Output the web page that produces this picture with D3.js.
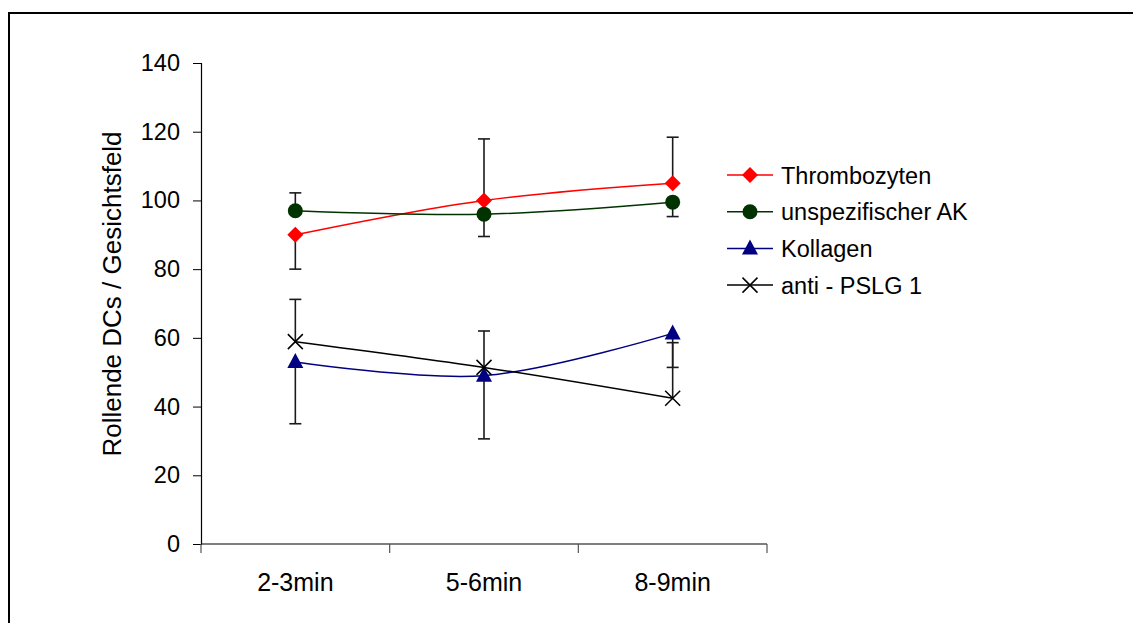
<!DOCTYPE html>
<html>
<head>
<meta charset="utf-8">
<script src="https://cdn.jsdelivr.net/npm/d3@7"></script>
<style>
  body { margin: 0; background: #fff; }
  text { font-family: "Liberation Sans", Arial, sans-serif; fill: #000; }
</style>
</head>
<body>
<div id="chart"></div>
<script>
// categories and values
const categories = ["2-3min", "5-6min", "8-9min"];
const yTicks = [0, 20, 40, 60, 80, 100, 120, 140];

const thrombozyten = [90, 100, 105];
const unspezifisch = [97, 96, 99.5];
const kollagen = [53, 49, 61.3];
const antiPslg = [58.9, 51.4, 42.4];

// error bars (only the drawn direction)
const thrombozytenUp = [0, 17.9, 13.4], thrombozytenDown = [10, 0, 0];
const unspezifischUp = [5.2, 0, 0], unspezifischDown = [0, 6.5, 4.2];
const kollagenUp = [0, 0, 0], kollagenDown = [18, 18.4, 9.9];
const antiPslgUp = [12.3, 10.6, 16.2], antiPslgDown = [0, 0, 0];

const series = [
	{ name: "Thrombozyten", values: thrombozyten, up: thrombozytenUp, down: thrombozytenDown, color: "#ff0000", symbol: "diamond" },
	{ name: "unspezifischer AK", values: unspezifisch, up: unspezifischUp, down: unspezifischDown, color: "#003300", symbol: "circle" },
	{ name: "Kollagen", values: kollagen, up: kollagenUp, down: kollagenDown, color: "#000080", symbol: "triangle" },
	{ name: "anti - PSLG 1", values: antiPslg, up: antiPslgUp, down: antiPslgDown, color: "#000000", symbol: "cross" }
];

const W = 1133, H = 623;

const svg = d3.select("#chart")
	.append("svg")
	.attr("width", W)
	.attr("height", H);

// outer frame (runs past the right and bottom edge)
svg.append("rect")
	.attr("x", 9).attr("y", 13)
	.attr("width", W + 20).attr("height", H + 20)
	.attr("fill", "none")
	.attr("stroke", "#000")
	.attr("stroke-width", 2);

// scales
const x = d3.scaleBand()
	.domain(categories)
	.range([201, 767]);

const y = d3.scaleLinear()
	.domain([0, 140])
	.range([544, 63]);

const cx = d => x(d) + x.bandwidth() / 2;

// Y axis
const yAxis = svg.append("g")
	.attr("transform", "translate(201,0)")
	.call(d3.axisLeft(y).tickValues(yTicks).tickSize(8).tickPadding(13));
yAxis.select(".domain").attr("stroke", "#000").attr("stroke-width", 1.2);
yAxis.selectAll(".tick line").attr("stroke", "#000");
yAxis.selectAll(".tick text")
	.style("font-family", "'Liberation Sans', Arial, sans-serif")
	.style("font-size", "23.5px");

// X axis
const xAxis = svg.append("g")
	.attr("transform", "translate(0,544)")
	.call(d3.axisBottom(x).tickSize(0).tickPadding(29));
xAxis.select(".domain").attr("stroke", "#000").attr("stroke-width", 1.2)
	.attr("d", "M201,0H767");
xAxis.selectAll(".tick text")
	.style("font-family", "'Liberation Sans', Arial, sans-serif")
	.style("font-size", "25px");

// category boundary ticks
const edges = categories.map(c => x(c)).concat([x(categories[categories.length - 1]) + x.bandwidth()]);
xAxis.selectAll(".edge")
	.data(edges)
	.enter().append("line")
	.attr("x1", d => d).attr("x2", d => d)
	.attr("y1", 0).attr("y2", 9)
	.attr("stroke", "#555")
	.attr("stroke-width", 1.2);

// Y axis title
svg.append("text")
	.attr("transform", "translate(121,294) rotate(-90)")
	.attr("text-anchor", "middle")
	.style("font-size", "26px")
	.text("Rollende DCs / Gesichtsfeld");

// lines
const line = d3.line()
	.x((d, i) => cx(categories[i]))
	.y(d => y(d))
	.curve(d3.curveCatmullRom);

svg.selectAll(".series")
	.data(series)
	.enter().append("path")
	.attr("d", d => line(d.values))
	.attr("fill", "none")
	.attr("stroke", d => d.color)
	.attr("stroke-width", 1.5);

// error bars
series.forEach(s => {
	s.values.forEach((v, i) => {
		const px = cx(categories[i]);
		[[s.up[i], 1], [s.down[i], -1]].forEach(([e, dir]) => {
			if (!e) return;
			const end = y(v + dir * e);
			svg.append("line")
				.attr("x1", px).attr("x2", px)
				.attr("y1", y(v)).attr("y2", end)
				.attr("stroke", "#1a1a1a").attr("stroke-width", 1.6);
			svg.append("line")
				.attr("x1", px - 6).attr("x2", px + 6)
				.attr("y1", end).attr("y2", end)
				.attr("stroke", "#1a1a1a").attr("stroke-width", 1.6);
		});
	});
});

// marker drawing
function drawMarker(g, s, px, py) {
	if (s.symbol === "diamond") {
		g.append("path")
			.attr("d", `M${px},${py - 8}L${px + 8},${py}L${px},${py + 8}L${px - 8},${py}Z`)
			.attr("fill", s.color);
	} else if (s.symbol === "circle") {
		g.append("circle")
			.attr("cx", px).attr("cy", py).attr("r", 7.5)
			.attr("fill", s.color);
	} else if (s.symbol === "triangle") {
		g.append("path")
			.attr("d", `M${px},${py - 9}L${px + 8},${py + 6}L${px - 8},${py + 6}Z`)
			.attr("fill", s.color);
	} else {
		g.append("path")
			.attr("d", `M${px - 7.5},${py - 7.5}L${px + 7.5},${py + 7.5}M${px + 7.5},${py - 7.5}L${px - 7.5},${py + 7.5}`)
			.attr("stroke", s.color)
			.attr("stroke-width", 1.5)
			.attr("fill", "none");
	}
}

const markers = svg.append("g");
series.forEach(s => {
	s.values.forEach((v, i) => drawMarker(markers, s, cx(categories[i]), y(v)));
});

// legend
const legend = svg.append("g");
series.forEach((s, i) => {
	const ly = 175 + i * 36.7;
	legend.append("line")
		.attr("x1", 727).attr("x2", 773)
		.attr("y1", ly).attr("y2", ly)
		.attr("stroke", s.color)
		.attr("stroke-width", 1.5);
	drawMarker(legend, s, 750, ly);
	legend.append("text")
		.attr("x", 781)
		.attr("y", ly + 8.5)
		.style("font-size", "23.5px")
		.text(s.name);
});
</script>
</body>
</html>
